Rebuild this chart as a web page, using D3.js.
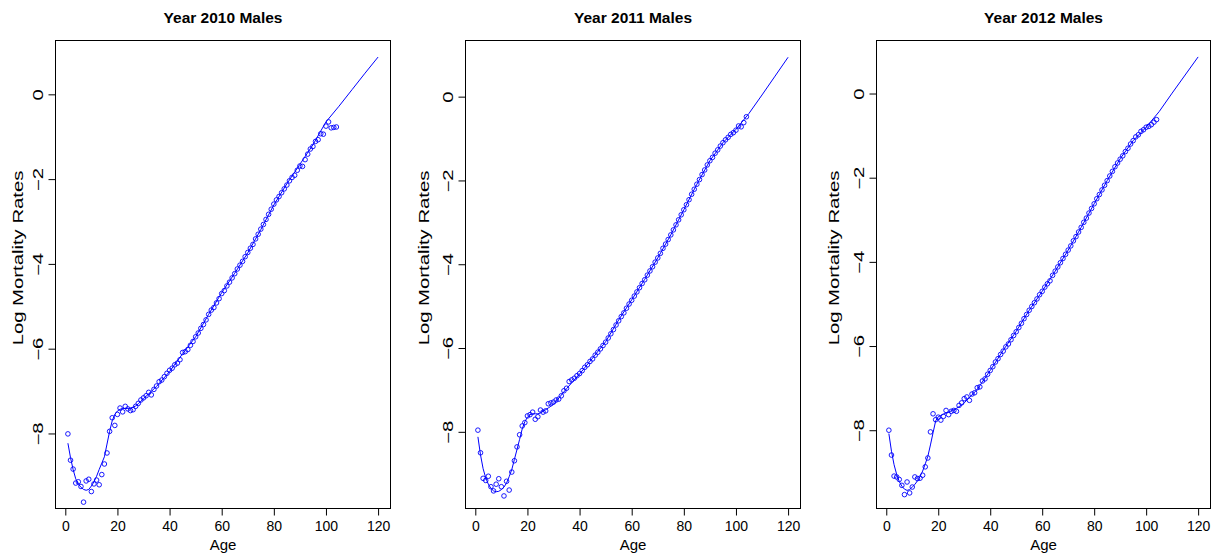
<!DOCTYPE html>
<html>
<head>
<meta charset="utf-8">
<script src="https://cdn.jsdelivr.net/npm/d3@7"></script>
<style>
  body { margin: 0; background: #fff; }
  text { font-family: "Liberation Sans", Arial, sans-serif; fill: #000; }
</style>
</head>
<body>
<script>
var WIDTH = 1216;
var HEIGHT = 560;

// ---- data ----
var years = ["2010", "2011", "2012"];
var ages = d3.range(1, 105);            // observed ages 1..104
var fitAges = [1, 2, 3, 4, 5, 6, 7, 8, 9, 10, 11, 12, 13, 14, 15, 16, 17, 18, 19, 20,
               21, 22, 23, 24, 25, 26, 27, 28, 29, 30, 35, 40, 45, 50, 55, 60, 65, 70,
               75, 80, 85, 90, 95, 100, 105, 110, 115, 120];
var xTicks = [0, 20, 40, 60, 80, 100, 120];
var yTicks = [-8, -6, -4, -2, 0];

var obs2010 = [
  -8.01, -8.63, -8.84, -9.17, -9.14, -9.25, -9.62, -9.12, -9.08, -9.37,
  -9.19, -9.10, -9.21, -8.97, -8.72, -8.46, -7.95, -7.63, -7.81, -7.55,
  -7.40, -7.49, -7.36, -7.42, -7.46, -7.44, -7.36, -7.29, -7.21, -7.16,
  -7.11, -7.03, -7.09, -6.96, -6.88, -6.78, -6.74, -6.66, -6.58, -6.51,
  -6.46, -6.38, -6.34, -6.26, -6.09, -6.07, -6.02, -5.92, -5.83, -5.72,
  -5.63, -5.52, -5.43, -5.32, -5.19, -5.09, -5.03, -4.92, -4.82, -4.70,
  -4.63, -4.52, -4.43, -4.33, -4.23, -4.12, -4.03, -3.94, -3.83, -3.73,
  -3.63, -3.54, -3.41, -3.30, -3.18, -3.07, -2.95, -2.83, -2.71, -2.59,
  -2.49, -2.41, -2.32, -2.23, -2.14, -2.04, -1.96, -1.91, -1.79, -1.69,
  -1.70, -1.54, -1.41, -1.29, -1.23, -1.11, -1.07, -0.93, -0.94, -0.75,
  -0.65, -0.79, -0.78, -0.77
];
var obs2011 = [
  -7.96, -8.50, -9.11, -9.16, -9.06, -9.31, -9.41, -9.25, -9.12, -9.31,
  -9.53, -9.18, -9.39, -8.96, -8.69, -8.36, -8.07, -7.86, -7.78, -7.62,
  -7.59, -7.53, -7.70, -7.64, -7.48, -7.53, -7.50, -7.33, -7.31, -7.29,
  -7.24, -7.22, -7.14, -7.02, -6.96, -6.80, -6.76, -6.72, -6.66, -6.61,
  -6.54, -6.46, -6.40, -6.32, -6.26, -6.17, -6.10, -6.02, -5.94, -5.86,
  -5.76, -5.66, -5.56, -5.45, -5.35, -5.25, -5.16, -5.05, -4.95, -4.86,
  -4.76, -4.66, -4.56, -4.46, -4.37, -4.26, -4.16, -4.06, -3.95, -3.85,
  -3.74, -3.62, -3.52, -3.41, -3.30, -3.18, -3.06, -2.94, -2.82, -2.70,
  -2.58, -2.46, -2.33, -2.21, -2.09, -1.98, -1.86, -1.75, -1.63, -1.53,
  -1.45, -1.35, -1.27, -1.18, -1.10, -1.03, -0.97, -0.90, -0.86, -0.80,
  -0.70, -0.72, -0.62, -0.48
];
var obs2012 = [
  -8.00, -8.59, -9.09, -9.11, -9.17, -9.31, -9.53, -9.23, -9.49, -9.35,
  -9.11, -9.15, -9.14, -9.07, -8.87, -8.66, -8.04, -7.61, -7.75, -7.69,
  -7.76, -7.67, -7.53, -7.63, -7.55, -7.53, -7.55, -7.41, -7.35, -7.25,
  -7.21, -7.29, -7.14, -7.11, -6.99, -6.97, -6.83, -6.78, -6.67, -6.58,
  -6.49, -6.38, -6.30, -6.20, -6.12, -6.02, -5.95, -5.85, -5.75, -5.66,
  -5.56, -5.46, -5.35, -5.25, -5.15, -5.06, -4.97, -4.88, -4.78, -4.70,
  -4.60, -4.52, -4.45, -4.32, -4.22, -4.12, -4.02, -3.92, -3.82, -3.72,
  -3.62, -3.50, -3.40, -3.29, -3.18, -3.06, -2.96, -2.84, -2.73, -2.62,
  -2.50, -2.40, -2.29, -2.18, -2.07, -1.96, -1.85, -1.74, -1.65, -1.56,
  -1.48, -1.38, -1.30, -1.20, -1.12, -1.03, -0.98, -0.90, -0.86, -0.80,
  -0.78, -0.74, -0.68, -0.62
];

var fit2010 = [
  -8.23, -8.57, -8.85, -9.07, -9.19, -9.27, -9.32, -9.34, -9.32, -9.24,
  -9.14, -9.01, -8.85, -8.70, -8.55, -8.25, -7.95, -7.70, -7.55, -7.47,
  -7.43, -7.41, -7.41, -7.41, -7.40, -7.38, -7.35, -7.30, -7.24, -7.18,
  -6.89, -6.54, -6.12, -5.72, -5.19, -4.68, -4.22, -3.74, -3.19, -2.61,
  -2.11, -1.65, -1.19, -0.65, -0.28, 0.11, 0.50, 0.88
];
var fit2011 = [
  -8.12, -8.55, -8.88, -9.10, -9.25, -9.35, -9.41, -9.43, -9.42, -9.38,
  -9.32, -9.22, -9.07, -8.90, -8.66, -8.42, -8.18, -7.93, -7.76, -7.65,
  -7.59, -7.57, -7.57, -7.57, -7.55, -7.51, -7.47, -7.43, -7.39, -7.35,
  -6.97, -6.62, -6.24, -5.85, -5.33, -4.85, -4.36, -3.85, -3.30, -2.70,
  -2.09, -1.53, -1.10, -0.78, -0.40, 0.04, 0.49, 0.94
];
var fit2012 = [
  -8.08, -8.50, -8.82, -9.05, -9.22, -9.33, -9.40, -9.43, -9.41, -9.35,
  -9.29, -9.20, -9.10, -8.97, -8.80, -8.62, -8.35, -8.06, -7.78, -7.68,
  -7.65, -7.62, -7.59, -7.57, -7.54, -7.51, -7.48, -7.44, -7.40, -7.35,
  -7.03, -6.58, -6.10, -5.65, -5.15, -4.70, -4.22, -3.72, -3.18, -2.62,
  -2.07, -1.55, -1.12, -0.80, -0.43, 0.01, 0.44, 0.87
];

var observed = [obs2010, obs2011, obs2012];
var fitted = [fit2010, fit2011, fit2012];

// ---- layout ----
var TOP = 40.5;
var BOTTOM = 508.5;
var YLAB_Y = 258;
var panels = [
  { left: 55.5,  right: 390.5,  ylab: 23,  ydom: [-9.77, 1.27] },
  { left: 465.5, right: 800.5,  ylab: 429, ydom: [-9.83, 1.34] },
  { left: 876.5, right: 1210.5, ylab: 839, ydom: [-9.86, 1.26] }
];
var BLUE = "#0000ff";
var STRETCH = 1.45;   // vertical text in the original is drawn long and thin

var svg = d3.select("body")
            .append("svg")
            .attr("width", WIDTH)
            .attr("height", HEIGHT);

svg.append("rect")
   .attr("width", WIDTH)
   .attr("height", HEIGHT)
   .attr("fill", "#fff");

var drawPanel = function(p, i) {
    // R style: 4% padding round 1..120
    var x = d3.scaleLinear().domain([-3.76, 124.76]).range([p.left, p.right]);
    var y = d3.scaleLinear().domain(p.ydom).range([BOTTOM, TOP]);
    var g = svg.append("g");
    var cx = (p.left + p.right) / 2;

    // fitted curve
    var line = d3.line()
                 .x(function(d) { return x(d[0]); })
                 .y(function(d) { return y(d[1]); });
    g.append("path")
     .datum(d3.zip(fitAges, fitted[i]))
     .attr("d", line)
     .attr("fill", "none")
     .attr("stroke", BLUE)
     .attr("stroke-width", 1);

    // observed points
    g.selectAll("circle.obs")
     .data(d3.zip(ages, observed[i]))
     .enter()
     .append("circle")
     .classed("obs", true)
     .attr("cx", function(d) { return x(d[0]); })
     .attr("cy", function(d) { return y(d[1]); })
     .attr("r", 2.3)
     .attr("fill", "none")
     .attr("stroke", BLUE)
     .attr("stroke-width", 0.9);

    // box
    g.append("rect")
     .attr("x", p.left)
     .attr("y", TOP)
     .attr("width", p.right - p.left)
     .attr("height", BOTTOM - TOP)
     .attr("fill", "none")
     .attr("stroke", "#000")
     .attr("stroke-width", 1);

    // x axis
    var xa = g.append("g")
              .attr("transform", "translate(0," + BOTTOM + ")")
              .call(d3.axisBottom(x).tickValues(xTicks).tickSize(7).tickPadding(5.5).tickSizeOuter(0));
    xa.select(".domain").remove();
    xa.append("line")
      .attr("x1", x(xTicks[0])).attr("x2", x(xTicks[xTicks.length - 1]))
      .attr("stroke", "#000");
    xa.selectAll("text").attr("font-size", "14px").attr("fill", "#000");

    // y axis, labels turned like R's las=0
    var ya = g.append("g")
              .attr("transform", "translate(" + p.left + ",0)")
              .call(d3.axisLeft(y).tickValues(yTicks).tickSize(7).tickSizeOuter(0));
    ya.select(".domain").remove();
    ya.selectAll("text")
      .attr("transform", "rotate(-90) scale(" + STRETCH + ",1)")
      .attr("x", 0)
      .attr("y", -13)
      .attr("dy", 0)
      .attr("text-anchor", "middle")
      .attr("font-size", "14px")
      .attr("fill", "#000");

    // titles
    g.append("text")
     .attr("x", cx)
     .attr("y", 22.5)
     .attr("text-anchor", "middle")
     .attr("font-size", "15.5px")
     .attr("font-weight", "bold")
     .text("Year " + years[i] + " Males");

    g.append("text")
     .attr("x", cx)
     .attr("y", 549.5)
     .attr("text-anchor", "middle")
     .attr("font-size", "15px")
     .text("Age");

    g.append("text")
     .attr("transform", "translate(" + p.ylab + "," + YLAB_Y + ") rotate(-90) scale(" + STRETCH + ",1)")
     .attr("text-anchor", "middle")
     .attr("font-size", "14px")
     .text("Log Mortality Rates");
}

panels.forEach(drawPanel);
</script>
</body>
</html>
